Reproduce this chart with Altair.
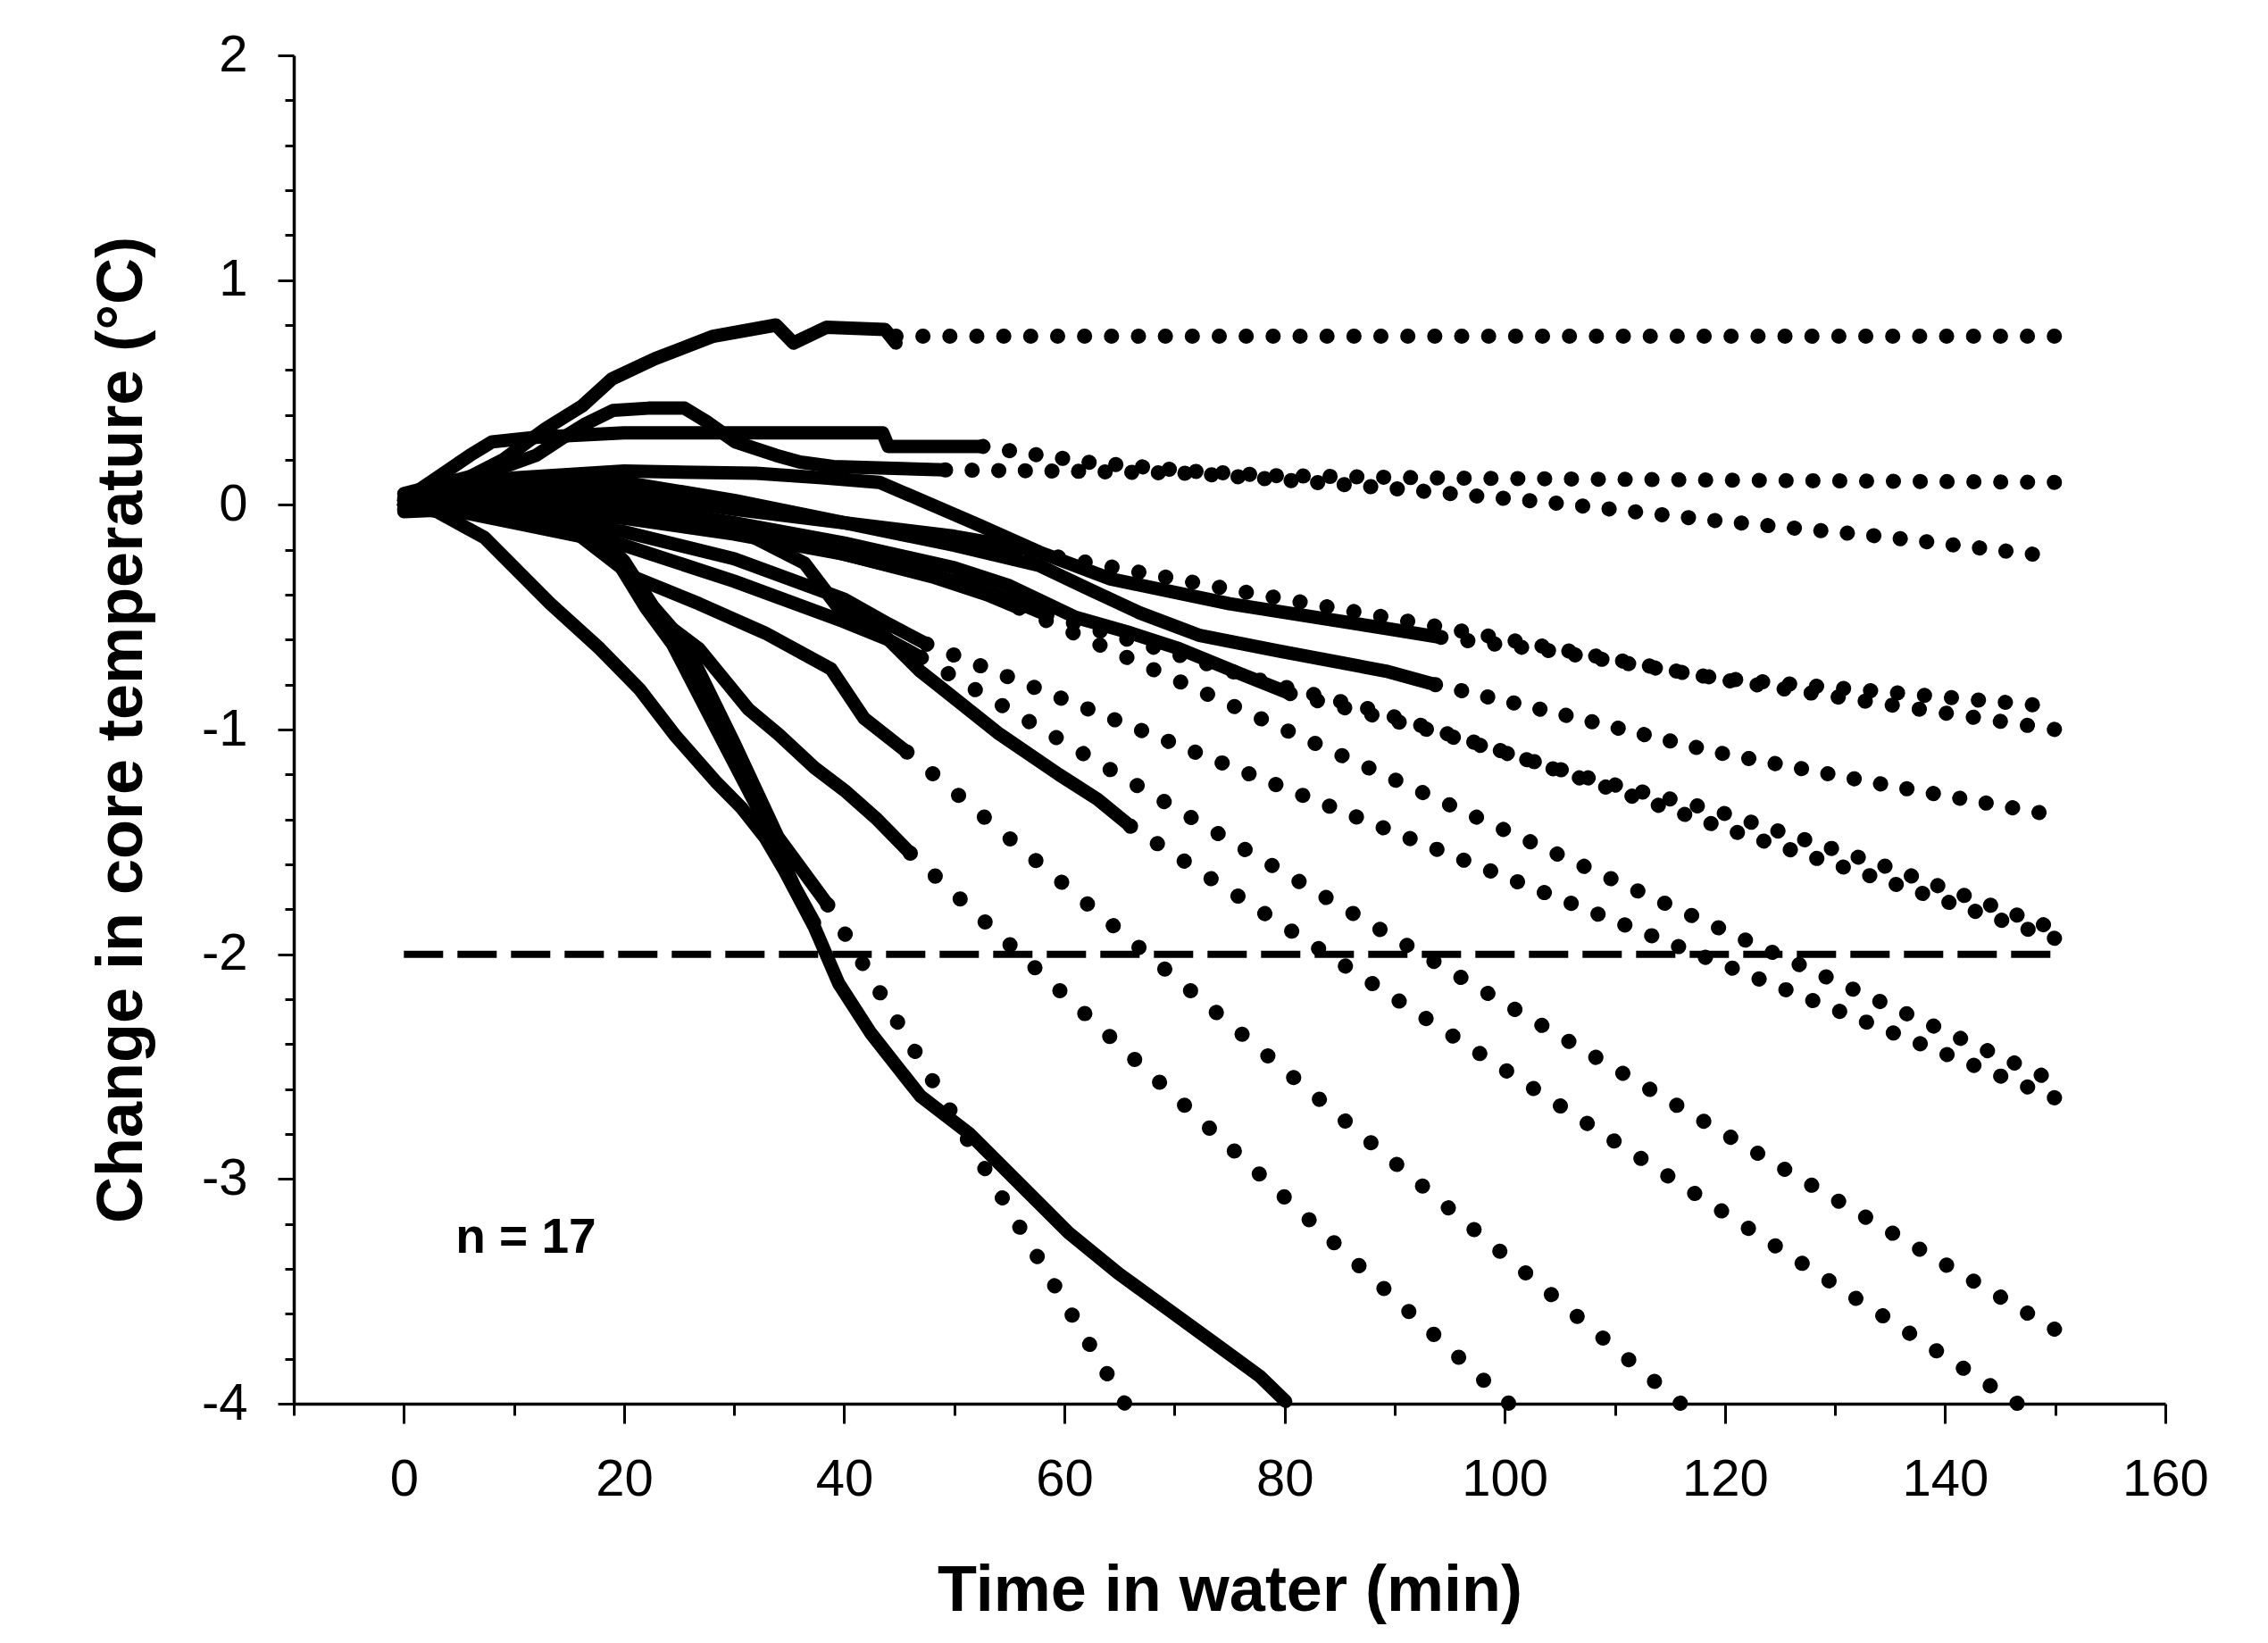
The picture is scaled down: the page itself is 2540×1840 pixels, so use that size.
import math
import pandas as pd
import altair as alt

# ---------------- data (t = minutes, v = change in core temp, degC) -------------
s01_solid = [(0, 0.03), (5, 0.1), (9, 0.2), (12.9, 0.34), (16.2, 0.44), (18.9, 0.56), (22.8, 0.65),
             (28.1, 0.75), (33.8, 0.8), (35.4, 0.72), (38.4, 0.79), (43.7, 0.78), (44.7, 0.72)]
s01_dots = [(44.7, 0.75), (150, 0.75)]

s02_solid = [(0, 0.02), (3, 0.12), (6, 0.22), (8, 0.28), (12, 0.3), (20, 0.32), (30, 0.32),
             (43.5, 0.32), (44, 0.26), (52.6, 0.26)]
s02_dots = [(52.6, 0.26), (56.4, 0.23), (59.4, 0.21), (62, 0.19), (66.8, 0.17), (71.5, 0.15),
            (79, 0.13), (93, 0.12), (119, 0.11), (150, 0.1)]

s03_solid = [(0, 0.05), (4, 0.1), (8, 0.15), (12, 0.22), (14.5, 0.3), (16.5, 0.36), (19, 0.42),
             (22.2, 0.43), (25.5, 0.43), (27.5, 0.37), (30.1, 0.28), (33.8, 0.22), (36, 0.19),
             (39, 0.17), (49.2, 0.155)]
s03_dots = [(49.2, 0.155), (60, 0.15), (71.5, 0.14), (80, 0.11), (89.3, 0.075), (104.2, 0.01),
            (119.1, -0.07), (134.1, -0.14), (148, -0.22)]

s04_solid = [(0, 0.0), (5, 0.08), (10, 0.12), (20, 0.15), (32, 0.14), (38, 0.12), (43.2, 0.1),
             (47.5, 0.01), (52.2, -0.09), (57.7, -0.21), (64.2, -0.33), (75, -0.44), (89.2, -0.55),
             (94.2, -0.59)]
s04_dots = [(94.2, -0.59), (104.2, -0.65), (119.1, -0.77), (134, -0.83), (148, -0.89)]

s05_solid = [(0, -0.02), (5, 0.03), (10, 0.08), (20, 0.1), (30, 0.02), (40, -0.08), (50, -0.18),
             (57.7, -0.27), (62, -0.37), (66.8, -0.48), (72.2, -0.58), (79.4, -0.65), (89.2, -0.74),
             (93.7, -0.8)]
s05_dots = [(93.7, -0.8), (105, -0.93), (119.1, -1.1), (135, -1.25), (148.6, -1.37)]

s06_solid = [(0, 0.02), (5, 0.06), (10, 0.06), (20, 0.05), (30, -0.02), (40, -0.08), (50, -0.14),
             (57, -0.2)]
s06_dots = [(57, -0.21), (76.6, -0.39), (93.7, -0.54), (120, -0.78), (150, -1.0)]

s07_solid = [(0, 0.0), (5, 0.04), (10, 0.02), (20, 0.0), (30, -0.08), (40, -0.17), (50, -0.28),
             (55, -0.36), (61, -0.5), (66, -0.57), (70.4, -0.64), (75.9, -0.75), (80.5, -0.84)]
s07_dots = [(80.5, -0.84), (86, -0.91), (93, -1.0), (107.9, -1.22), (119.1, -1.36), (134.1, -1.6),
            (149, -1.87)]

s08_solid = [(0, -0.02), (5, 0.02), (10, -0.02), (20, -0.06), (30, -0.13), (40, -0.22), (50, -0.34),
             (55, -0.42), (58.4, -0.49)]
s08_dots = [(58.4, -0.49), (68.5, -0.64), (78.4, -0.79), (87.8, -0.91), (100, -1.1), (120, -1.44),
            (135, -1.68), (150, -1.93)]

s09_solid = [(0, 0.01), (5, 0.0), (10, -0.04), (20, -0.02), (30, -0.1), (40, -0.22), (48, -0.32),
             (53, -0.4), (55.9, -0.46)]
s09_dots = [(55.9, -0.46), (148.8, -2.54)]

s10_solid = [(0, -0.03), (5, -0.02), (10, -0.06), (20, -0.12), (30, -0.24), (40, -0.42), (44, -0.53),
             (47.5, -0.62)]
s10_dots = [(47.5, -0.62), (150, -2.64)]

s11_solid = [(0, 0.0), (5, -0.03), (10, -0.08), (20, -0.18), (30, -0.34), (40, -0.52), (44, -0.6),
             (47, -0.68)]
s11_dots = [(47, -0.68), (150, -3.67)]

s12_solid = [(0, 0.02), (5, 0.0), (10, -0.03), (15, -0.1), (20.8, -0.32), (26.8, -0.44),
             (32.8, -0.57), (38.8, -0.73), (41.8, -0.95), (45.7, -1.1)]
s12_dots = [(45.7, -1.1), (116, -4.0)]

s13_solid = [(0, 0.02), (5, 0.05), (10, 0.04), (20, 0.0), (30, -0.1), (36.4, -0.26), (39.8, -0.48),
             (43.2, -0.56), (46.9, -0.74), (50, -0.86), (54.1, -1.02), (59.5, -1.2), (63, -1.31),
             (66, -1.43)]
s13_dots = [(66, -1.43), (146.6, -4.0)]

s14_solid = [(0, 0.0), (5, -0.02), (10, -0.04), (16.9, -0.1), (20, -0.25), (22.6, -0.45),
             (23.8, -0.53), (26.8, -0.64), (31.3, -0.91), (34, -1.02), (37.3, -1.17), (40, -1.27),
             (43, -1.4), (46, -1.55)]
s14_dots = [(46, -1.55), (100.4, -4.0)]

s15_solid = [(0, 0.0), (5, 0.0), (10, -0.03), (16.9, -0.09), (19.3, -0.23), (22.6, -0.45),
             (25.6, -0.62), (30, -1.06), (34, -1.48), (38.5, -1.78)]
s15_dots = [(38.5, -1.78), (65.5, -4.0)]

s16_solid = [(0, 0.0), (5, -0.01), (10, -0.04), (16.9, -0.1), (19.5, -0.26), (22, -0.46),
             (24.4, -0.62), (28, -0.96), (33.1, -1.44), (35.5, -1.7), (37.3, -1.86)]
s16_dots = []

s17_solid = [(0, 0.0), (3, -0.03), (7.3, -0.145), (13.3, -0.44), (17.8, -0.64), (21.4, -0.82),
             (24.7, -1.03), (28.3, -1.23), (30.7, -1.35), (32.8, -1.48), (34.6, -1.63), (37.3, -1.88),
             (39.5, -2.13), (42.4, -2.35), (46.9, -2.63), (51.4, -2.8), (55.9, -3.02), (60.4, -3.24),
             (64.9, -3.42), (69.4, -3.58), (73.9, -3.74), (77.8, -3.88), (80.1, -3.99)]
s17_dots = []

threshold_t = [0, 150]
threshold_v = [-2, -2]

note_text = ["n = 17"]
note_t = [4.7]
note_v = [-3.33]

x_title = "Time in water (min)"
y_title = "Change in core temperature (°C)"

# ---------------- build tables ----------------
subjects = [
    ("S01", s01_solid, s01_dots), ("S02", s02_solid, s02_dots), ("S03", s03_solid, s03_dots),
    ("S04", s04_solid, s04_dots), ("S05", s05_solid, s05_dots), ("S06", s06_solid, s06_dots),
    ("S07", s07_solid, s07_dots), ("S08", s08_solid, s08_dots), ("S09", s09_solid, s09_dots),
    ("S10", s10_solid, s10_dots), ("S11", s11_solid, s11_dots), ("S12", s12_solid, s12_dots),
    ("S13", s13_solid, s13_dots), ("S14", s14_solid, s14_dots), ("S15", s15_solid, s15_dots),
    ("S16", s16_solid, s16_dots), ("S17", s17_solid, s17_dots),
]

W, H = 2096, 1510
X_MIN, X_MAX, Y_MIN, Y_MAX = -10, 160, -4, 2
px_t = W / (X_MAX - X_MIN)
px_v = H / (Y_MAX - Y_MIN)

solid_rows, dot_rows = [], []
dot_ids, dash_list = [], []
for sid, solid, dots in subjects:
    for i, (t, v) in enumerate(solid):
        solid_rows.append({"sid": sid, "i": i, "t": t, "v": v})
    if dots:
        for i, (t, v) in enumerate(dots):
            dot_rows.append({"sid": sid, "i": i, "t": t, "v": v})
        # dot spacing: wider on steep lines, fitted so a dot lands (just) on the last point
        dt = (dots[-1][0] - dots[0][0]) * px_t
        dv = (dots[-1][1] - dots[0][1]) * px_v
        ratio = math.hypot(dt, dv) / dt
        gap0 = min(30 * ratio, 38)
        length = sum(math.hypot((b[0] - a[0]) * px_t, (b[1] - a[1]) * px_v)
                     for a, b in zip(dots[:-1], dots[1:]))
        n = max(1, round(length / gap0))
        gap = (length - 1.0) / n
        dot_ids.append(sid)
        dash_list.append([0.1, round(gap - 0.1, 3)])

df_solid = pd.DataFrame(solid_rows)
df_dots = pd.DataFrame(dot_rows)
df_thr = pd.DataFrame({"t": threshold_t, "v": threshold_v})
df_note = pd.DataFrame({"t": note_t, "v": note_v, "label": note_text})

FONT = "Liberation Sans"

x_enc = alt.X(
    "t:Q",
    scale=alt.Scale(domain=[X_MIN, X_MAX], nice=False, zero=False),
    axis=alt.Axis(
        title=x_title,
        values=list(range(-10, 161, 10)),
        labelExpr="datum.value >= 0 && datum.value % 20 === 0 ? '' + datum.value : ''",
        tickSize={"condition": {"test": "datum.value % 20 === 0", "value": 22}, "value": 13},
        tickWidth=3, tickColor="black",
        domainColor="black", domainWidth=3.5,
        labelFont=FONT, labelFontSize=58, labelColor="black", labelPadding=34,
        labelFlush=False, labelOverlap=False,
        titleFont=FONT, titleFontSize=72, titleFontWeight="bold", titleColor="black",
        titleY=231, titleBaseline="alphabetic",
        grid=False,
    ),
)

y_values = [round(Y_MIN + 0.2 * k, 1) for k in range(31)]
y_enc = alt.Y(
    "v:Q",
    scale=alt.Scale(domain=[Y_MIN, Y_MAX], nice=False, zero=False),
    axis=alt.Axis(
        title=y_title,
        values=y_values,
        labelExpr="abs(datum.value - round(datum.value)) < 0.001 ? '' + round(datum.value) : ''",
        tickSize={"condition": {"test": "abs(datum.value - round(datum.value)) < 0.001", "value": 18},
                  "value": 10},
        tickWidth=3, tickColor="black",
        domainColor="black", domainWidth=3.5,
        labelFont=FONT, labelFontSize=58, labelColor="black", labelPadding=34,
        labelFlush=False, labelOverlap=False,
        titleFont=FONT, titleFontSize=72, titleFontWeight="bold", titleColor="black",
        titleX=-171, titleBaseline="alphabetic", titleAngle=270,
        grid=False,
    ),
)

thr_layer = alt.Chart(df_thr).mark_line(color="black", strokeWidth=8, strokeDash=[44, 16]).encode(
    x=x_enc, y=y_enc
)

dots_layer = alt.Chart(df_dots).mark_line(color="black", strokeWidth=17, strokeCap="round").encode(
    x=x_enc, y=y_enc, detail="sid:N", order="i:Q",
    strokeDash=alt.StrokeDash("sid:N", scale=alt.Scale(domain=dot_ids, range=dash_list), legend=None),
)

solid_layer = alt.Chart(df_solid).mark_line(
    color="black", strokeWidth=15, strokeCap="round", strokeJoin="round"
).encode(x=x_enc, y=y_enc, detail="sid:N", order="i:Q")

note_layer = alt.Chart(df_note).mark_text(
    align="left", baseline="alphabetic", font=FONT, fontSize=55, fontWeight="bold", color="black"
).encode(x=x_enc, y=y_enc, text="label:N")

chart = alt.layer(thr_layer, dots_layer, solid_layer, note_layer).properties(
    width=W, height=H,
    padding={"left": 321, "top": 54, "right": 100, "bottom": 264},
    autosize=alt.AutoSizeParams(type="none"),
    background="white",
).configure_view(stroke=None)

chart.save("out.html", embed_options={"renderer": "svg", "actions": False})
